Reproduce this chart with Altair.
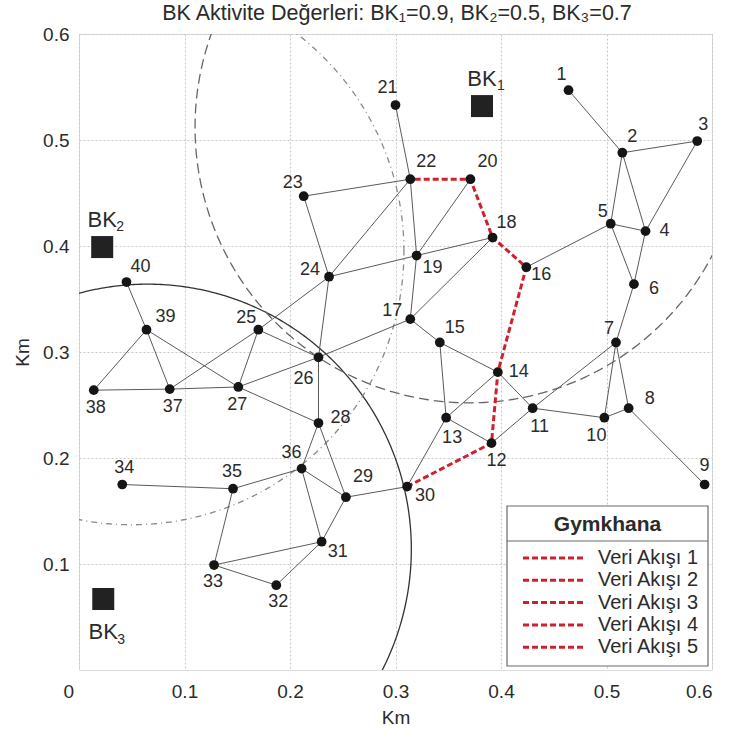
import altair as alt
import pandas as pd
import numpy as np

# ---------------- data ----------------
node_id = list(range(1, 41))
node_x = [0.464, 0.515, 0.586, 0.537, 0.504, 0.526, 0.509, 0.521, 0.593, 0.498,
          0.430, 0.391, 0.348, 0.397, 0.342, 0.424, 0.314, 0.392, 0.320, 0.371,
          0.300, 0.314, 0.213, 0.237, 0.170, 0.227, 0.151, 0.227, 0.253, 0.311,
          0.230, 0.187, 0.128, 0.041, 0.146, 0.211, 0.086, 0.014, 0.064, 0.045]
node_y = [0.547, 0.488, 0.499, 0.414, 0.421, 0.364, 0.309, 0.247, 0.175, 0.238,
          0.247, 0.214, 0.238, 0.281, 0.309, 0.380, 0.331, 0.408, 0.391, 0.463,
          0.533, 0.463, 0.447, 0.371, 0.321, 0.295, 0.267, 0.233, 0.163, 0.173,
          0.121, 0.080, 0.099, 0.175, 0.171, 0.190, 0.265, 0.264, 0.321, 0.366]

edges = [(1, 2), (2, 3), (2, 5), (2, 4), (3, 4), (5, 4), (5, 6), (4, 6), (5, 16),
         (6, 7), (7, 10), (7, 8), (7, 11), (8, 10), (8, 9), (10, 11), (11, 14),
         (11, 12), (14, 15), (14, 13), (13, 15), (13, 12), (13, 30), (15, 17),
         (17, 19), (17, 18), (17, 26), (18, 19), (20, 19), (22, 19), (21, 22),
         (22, 23), (22, 24), (19, 24), (23, 24), (24, 26), (24, 25), (25, 26),
         (25, 27), (25, 37), (39, 27), (26, 27), (26, 28), (27, 28), (28, 36),
         (28, 29), (36, 29), (36, 31), (29, 31), (36, 35), (35, 34), (35, 33),
         (33, 31), (33, 32), (32, 31), (29, 30), (39, 40), (39, 37), (39, 38),
         (38, 37), (37, 27)]

flow_path = [30, 12, 14, 16, 18, 20, 22]

bk_names = ["BK", "BK", "BK"]
bk_sub = ["1", "2", "3"]
bk_x = [0.382, 0.022, 0.023]
bk_y = [0.532, 0.399, 0.067]

circle_cx = [0.065, 0.370, 0.050]
circle_cy = [0.114, 0.512, 0.395]
circle_r = [0.250, 0.260, 0.258]

legend_title = "Gymkhana"
legend_labels = ["Veri Akışı 1", "Veri Akışı 2", "Veri Akışı 3", "Veri Akışı 4", "Veri Akışı 5"]

title_text = "BK Aktivite Değerleri: BK₁=0.9, BK₂=0.5, BK₃=0.7"
tick_values = [0, 0.1, 0.2, 0.3, 0.4, 0.5, 0.6]

# ---------------- styling / layout ----------------
W, H = 633, 636
FONT = "Liberation Sans"
TXT = "#2b2b2b"
PXX = 0.6 / W
PXY = 0.6 / H

# label offsets in pixels (dx, dy) for node numbers
label_off = {
    1: (-7, -15), 2: (10, -16), 3: (6, -16), 4: (19, 0), 5: (-8, -12),
    6: (20, 5), 7: (-7, -13), 8: (21, -9), 9: (0, -19), 10: (-8, 18),
    11: (7, 19), 12: (5, 18), 13: (6, 20), 14: (21, 0), 15: (15, -14),
    16: (15, 8), 17: (-18, -8), 18: (14, -15), 19: (16, 12), 20: (17, -17),
    21: (-8, -17), 22: (16, -17), 23: (-11, -13), 24: (-19, -7), 25: (-12, -12),
    26: (-15, 22), 27: (-1, 18), 28: (22, -5), 29: (17, -20), 30: (18, 9),
    31: (16, 10), 32: (2, 17), 33: (-1, 17), 34: (2, -17), 35: (-1, -17),
    36: (-10, -16), 37: (3, 18), 38: (2, 18), 39: (19, -13), 40: (14, -15),
}

nodes = pd.DataFrame({"id": node_id, "x": node_x, "y": node_y})
nodes["lx"] = [x + label_off[i][0] * PXX for i, x in zip(node_id, node_x)]
nodes["ly"] = [y - label_off[i][1] * PXY for i, y in zip(node_id, node_y)]
nodes["label"] = nodes["id"].astype(str)
pos = {i: (x, y) for i, x, y in zip(node_id, node_x, node_y)}

edge_rows = []
for k, (a, b) in enumerate(edges):
    edge_rows.append({"e": k, "o": 0, "x": pos[a][0], "y": pos[a][1]})
    edge_rows.append({"e": k, "o": 1, "x": pos[b][0], "y": pos[b][1]})
edge_df = pd.DataFrame(edge_rows)

flow_df = pd.DataFrame({"o": list(range(len(flow_path))),
                        "x": [pos[n][0] for n in flow_path],
                        "y": [pos[n][1] for n in flow_path]})

circ_rows = []
theta = np.linspace(0, 2 * np.pi, 721)
for c, (cx, cy, r) in enumerate(zip(circle_cx, circle_cy, circle_r)):
    for j, t in enumerate(theta):
        circ_rows.append({"c": c, "o": j, "x": cx + r * np.cos(t), "y": cy + r * np.sin(t)})
circ_df = pd.DataFrame(circ_rows)

bk_df = pd.DataFrame({"name": bk_names, "sub": bk_sub, "x": bk_x, "y": bk_y})
bk_main_off = [(0, -27), (0, -27), (0, 33)]
bk_sub_off = [(19, -20), (18, -20), (18, 41)]
bk_df["lx"] = [x + o[0] * PXX for x, o in zip(bk_x, bk_main_off)]
bk_df["ly"] = [y - o[1] * PXY for y, o in zip(bk_y, bk_main_off)]
bk_df["sx"] = [x + o[0] * PXX for x, o in zip(bk_x, bk_sub_off)]
bk_df["sy"] = [y - o[1] * PXY for y, o in zip(bk_y, bk_sub_off)]

xscale = alt.Scale(domain=[0, 0.6], nice=False, zero=False)
yscale = alt.Scale(domain=[0, 0.6], nice=False, zero=False)

xaxis = alt.Axis(values=tick_values, title="Km", grid=True, ticks=False, domain=False,
                 labelExpr="datum.value == 0 ? '0' : format(datum.value, '.1f')",
                 labelOffset={"condition": {"test": "datum.value === 0", "value": -16}, "value": 0},
                 labelFontSize=19, labelFont=FONT, labelColor=TXT, labelPadding=12,
                 titleFontSize=19, titleFont=FONT, titleColor=TXT, titleFontWeight="normal",
                 titlePadding=7, gridColor="#c8c8c8", gridDash=[2, 2], gridWidth=1)
yaxis = alt.Axis(values=tick_values[1:], title="Km", grid=True, ticks=False, domain=False,
                 format=".1f", labelFontSize=19, labelFont=FONT, labelColor=TXT, labelPadding=10,
                 titleFontSize=19, titleFont=FONT, titleColor=TXT, titleFontWeight="normal",
                 titlePadding=10, gridColor="#c8c8c8", gridDash=[2, 2], gridWidth=1)

X = lambda f="x": alt.X(f"{f}:Q", scale=xscale, axis=xaxis)
Y = lambda f="y": alt.Y(f"{f}:Q", scale=yscale, axis=yaxis)

# circles
circ_styles = [dict(color="#333333", strokeWidth=1.3),
               dict(color="#666666", strokeWidth=1.3, strokeDash=[10, 5]),
               dict(color="#8a8a8a", strokeWidth=1.3, strokeDash=[6, 4, 1, 4])]
circle_layers = []
for c, st in enumerate(circ_styles):
    circle_layers.append(
        alt.Chart(circ_df[circ_df["c"] == c]).mark_line(clip=True, **st).encode(
            x=X(), y=Y(), order="o:Q"))

edges_layer = alt.Chart(edge_df).mark_line(color="#5a5a5a", strokeWidth=1).encode(
    x=X(), y=Y(), detail="e:N", order="o:Q")

flow_layer = alt.Chart(flow_df).mark_line(color="#d0202e", strokeWidth=3, strokeDash=[6, 3]).encode(
    x=X(), y=Y(), order="o:Q")

nodes_layer = alt.Chart(nodes).mark_circle(size=95, color="#151515", opacity=1).encode(x=X(), y=Y())

node_labels = alt.Chart(nodes).mark_text(font=FONT, fontSize=18, color=TXT, baseline="middle",
                                          align="center").encode(
    x=X("lx"), y=Y("ly"), text="label:N")

bk_sq = alt.Chart(bk_df).mark_square(size=484, color="#222222", opacity=1).encode(x=X(), y=Y())
bk_lab = alt.Chart(bk_df).mark_text(font=FONT, fontSize=22, color=TXT, baseline="middle").encode(
    x=X("lx"), y=Y("ly"), text="name:N")
bk_subl = alt.Chart(bk_df).mark_text(font=FONT, fontSize=14, color=TXT, baseline="middle").encode(
    x=X("sx"), y=Y("sy"), text="sub:N")

# legend box (pixel positions inside plot area)
one = pd.DataFrame({"k": [0]})
LX0, LX1, LY0, LY1, LSEP = 428, 629, 472, 632, 507
legend_box = alt.Chart(one).mark_rect(fill="white", stroke="#6a6a6a", strokeWidth=1.2).encode(
    x=alt.value(LX0), x2=alt.value(LX1), y=alt.value(LY0), y2=alt.value(LY1))
legend_sep = alt.Chart(one).mark_rule(color="#6a6a6a", strokeWidth=1.2).encode(
    x=alt.value(LX0), x2=alt.value(LX1), y=alt.value(LSEP))
legend_ttl = alt.Chart(pd.DataFrame({"t": [legend_title]})).mark_text(
    font=FONT, fontSize=21, fontWeight="bold", color=TXT, baseline="middle", align="center").encode(
    x=alt.value((LX0 + LX1) / 2), y=alt.value(491), text="t:N")
legend_layers = [legend_box, legend_sep, legend_ttl]
for i, lab in enumerate(legend_labels):
    yy = 524 + i * 22.3
    legend_layers.append(alt.Chart(one).mark_rule(color="#d0202e", strokeWidth=3, strokeDash=[6, 3]).encode(
        x=alt.value(444), x2=alt.value(506), y=alt.value(yy)))
    legend_layers.append(alt.Chart(pd.DataFrame({"t": [lab]})).mark_text(
        font=FONT, fontSize=20, color=TXT, baseline="middle", align="left").encode(
        x=alt.value(519), y=alt.value(yy), text="t:N"))

# chart title drawn as a text mark above the plot area
title_layer = alt.Chart(pd.DataFrame({"t": [title_text]})).mark_text(
    font=FONT, fontSize=21.5, color=TXT, baseline="middle", align="center").encode(
    x=alt.value(318), y=alt.value(-20), text="t:N")

chart = alt.layer(
    *circle_layers, edges_layer, flow_layer, nodes_layer, node_labels,
    bk_sq, bk_lab, bk_subl, *legend_layers, title_layer
).properties(
    width=W, height=H,
    autosize=alt.AutoSizeParams(type="none"),
    padding={"left": 79, "top": 34, "right": 23, "bottom": 66},
).configure_view(stroke="#2b2b2b", strokeWidth=2.5).configure(background="white")

chart.save("out.html", embed_options={"renderer": "svg", "actions": False})
